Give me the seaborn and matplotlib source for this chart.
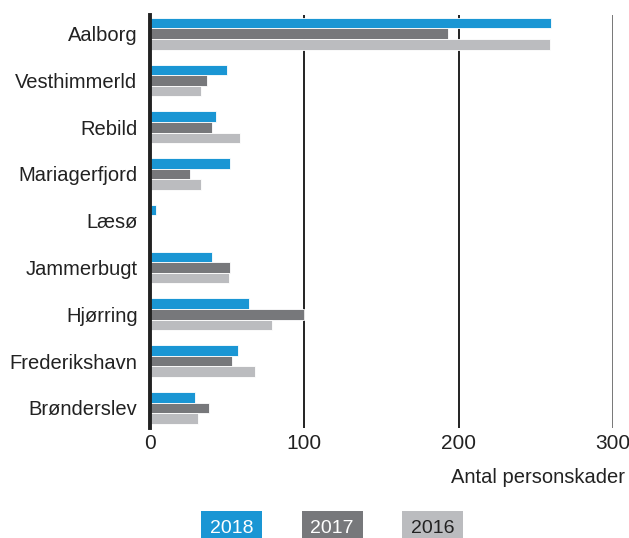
import pandas as pd
import seaborn as sns
from matplotlib import pyplot as plt

# data
kommuner = ["Aalborg", "Vesthimmerld", "Rebild", "Mariagerfjord", "Læsø",
            "Jammerbugt", "Hjørring", "Frederikshavn", "Brønderslev"]
aar = ["2018", "2017", "2016"]
v2018 = [260, 50, 43, 52, 4, 40, 64, 57, 29]
v2017 = [193, 37, 40, 26, 0.5, 52, 100, 53, 38]
v2016 = [259, 33, 58, 33, 0, 51, 79, 68, 31]
farver = ["#1a96d4", "#77787b", "#bbbcbf"]

rows = []
for year, vals in zip(aar, [v2018, v2017, v2016]):
    for k, v in zip(kommuner, vals):
        rows.append({"kommune": k, "aar": year, "antal": v})
df = pd.DataFrame(rows)

sns.set_style("white")
plt.rcParams["font.family"] = ["Liberation Sans", "DejaVu Sans"]

fig = plt.figure(figsize=(6.29, 5.38), dpi=100)
ax = fig.add_axes([0.2385, 0.2045, 0.736, 0.7677])

sns.barplot(data=df, y="kommune", x="antal", hue="aar", hue_order=aar,
            order=kommuner, palette=farver, saturation=1, orient="h",
            width=0.68, edgecolor="white", linewidth=0.6, legend=False, ax=ax)

ax.set_xlim(0, 300)
ax.set_ylim(8.43, -0.4)
ax.set_xticks([0, 100, 200, 300])
for x, c in zip([100, 200, 300], ["#222222", "#222222", "#777777"]):
    ax.axvline(x, color=c, lw=1.4, zorder=0)
for s in ["top", "right", "bottom"]:
    ax.spines[s].set_visible(False)
ax.spines["left"].set_color("#222222")
ax.spines["left"].set_linewidth(2.8)
ax.tick_params(axis="both", length=0, labelsize=15, colors="#222222")
ax.tick_params(axis="x", pad=4)
ax.tick_params(axis="y", pad=9, labelsize=14.5)
ax.set_ylabel("")
ax.set_xlabel("")

fig.text(0.993, 0.112, "Antal personskader", ha="right", va="center",
         fontsize=14.5, color="#222222")

# legend as coloured boxes with year inside
for x, year, c, tc in zip([0.368, 0.528, 0.688], aar, farver,
                          ["white", "white", "#222222"]):
    fig.text(x, 0.018, year, ha="center", va="center", fontsize=14,
             color=tc, bbox=dict(boxstyle="square,pad=0.45", fc=c, ec="none"))

fig.savefig("out.png", dpi=100)
